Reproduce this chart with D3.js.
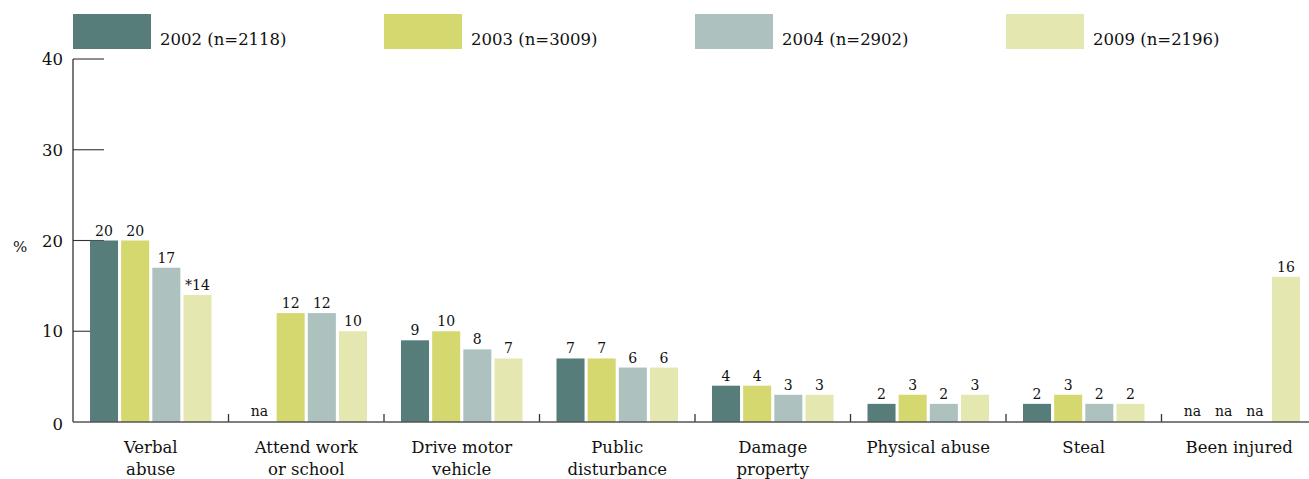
<!DOCTYPE html>
<html>
<head>
<meta charset="utf-8">
<script src="https://cdn.jsdelivr.net/npm/d3@7"></script>
<style>
  body { margin: 0; background: #fff; }
  svg text { font-family: "DejaVu Serif", serif; fill: #111; }
</style>
</head>
<body>
<svg id="chart" width="1309" height="479"></svg>
<script>
// categories, each label split into lines
var categories = [
    ["Verbal", "abuse"],
    ["Attend work", "or school"],
    ["Drive motor", "vehicle"],
    ["Public", "disturbance"],
    ["Damage", "property"],
    ["Physical abuse"],
    ["Steal"],
    ["Been injured"]
];
var seriesNames = ["2002 (n=2118)", "2003 (n=3009)", "2004 (n=2902)", "2009 (n=2196)"];
var colors = ["#567d7a", "#d4d86e", "#adc1bf", "#e4e8b0"];

// null = na
var v2002 = [20, null, 9, 7, 4, 2, 2, null];
var v2003 = [20, 12, 10, 7, 4, 3, 3, null];
var v2004 = [17, 12, 8, 6, 3, 2, 2, null];
var v2009 = [14, 10, 7, 6, 3, 3, 2, 16];
var flags2009 = ["*", "", "", "", "", "", "", ""];
var yTicks = [0, 10, 20, 30, 40];

var series = [v2002, v2003, v2004, v2009];

var svg = d3.select("#chart");
var left = 73, baseY = 422, topY = 59;
var band = 155.5;

var x0 = d3.scaleBand()
    .domain(d3.range(categories.length))
    .range([left, left + band * categories.length])
    .paddingInner(0).paddingOuter(0);

var x1 = d3.scaleBand()
    .domain(d3.range(series.length))
    .range([17, band - 17])
    .paddingInner(0.1);

var y = d3.scaleLinear().domain([0, 40]).range([baseY, topY]);

// y axis
var g = svg.append("g");
g.append("line")
    .attr("x1", left).attr("x2", left)
    .attr("y1", y(40)).attr("y2", y(0))
    .attr("stroke", "#333").attr("stroke-width", 1.3);

yTicks.forEach(function (t) {
    if (t > 0) {
        g.append("line")
            .attr("x1", left).attr("x2", left + 31)
            .attr("y1", y(t)).attr("y2", y(t))
            .attr("stroke", "#333").attr("stroke-width", 1.1);
    }
    g.append("text")
        .attr("x", 63).attr("y", y(t) + 6 + (t === 0 ? 2 : 0))
        .attr("text-anchor", "end")
        .attr("font-size", 16.5)
        .text(t);
});

svg.append("text")
    .attr("x", 13).attr("y", 252)
    .attr("font-size", 15)
    .text("%");

// bars
categories.forEach(function (cat, ci) {
    var gx = x0(ci);
    series.forEach(function (s, si) {
        var v = s[ci];
        var bx = gx + x1(si);
        var bw = x1.bandwidth();
        if (v === null) {
            svg.append("text")
                .attr("x", bx + bw / 2).attr("y", baseY - 6)
                .attr("text-anchor", "middle")
                .attr("font-size", 14)
                .text("na");
            return;
        }
        svg.append("rect")
            .attr("x", bx).attr("width", bw)
            .attr("y", y(v)).attr("height", y(0) - y(v))
            .attr("fill", colors[si]);
        var lbl = (si === 3 ? flags2009[ci] : "") + v;
        svg.append("text")
            .attr("x", bx + bw / 2).attr("y", y(v) - 5)
            .attr("text-anchor", "middle")
            .attr("font-size", 14)
            .text(lbl);
    });

    // category label
    var t = svg.append("text")
        .attr("x", gx + band / 2)
        .attr("y", 453)
        .attr("text-anchor", "middle")
        .attr("font-size", 16.5);
    cat.forEach(function (line, li) {
        t.append("tspan")
            .attr("x", gx + band / 2)
            .attr("dy", li === 0 ? 0 : 22)
            .text(line);
    });

    // boundary tick
    if (ci > 0) {
        svg.append("line")
            .attr("x1", gx).attr("x2", gx)
            .attr("y1", baseY - 8).attr("y2", baseY)
            .attr("stroke", "#333").attr("stroke-width", 1.3);
    }
});

// baseline
svg.append("line")
    .attr("x1", left).attr("x2", 1309)
    .attr("y1", baseY).attr("y2", baseY)
    .attr("stroke", "#555").attr("stroke-width", 1.6);

// legend
seriesNames.forEach(function (name, i) {
    var lx = left + i * band * 2;
    svg.append("rect")
        .attr("x", lx).attr("y", 14)
        .attr("width", 78).attr("height", 35)
        .attr("fill", colors[i]);
    svg.append("text")
        .attr("x", lx + 87).attr("y", 45)
        .attr("font-size", 16.5)
        .text(name);
});
</script>
</body>
</html>
